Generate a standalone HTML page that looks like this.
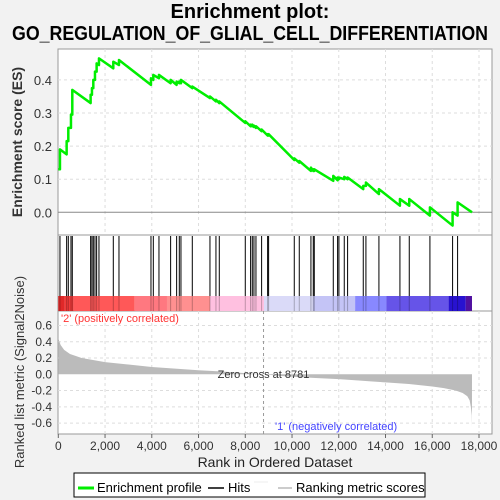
<!DOCTYPE html>
<html><head><meta charset="utf-8"><style>
body{margin:0;background:#f2f2f2;}
svg{display:block;font-family:"Liberation Sans",sans-serif;}
</style></head><body>
<svg id="c" width="500" height="500">
<text x="250" y="18" text-anchor="middle" font-size="20" font-weight="bold">Enrichment plot:</text>
<text x="250" y="40" text-anchor="middle" font-size="20" font-weight="bold" textLength="476" lengthAdjust="spacingAndGlyphs">GO_REGULATION_OF_GLIAL_CELL_DIFFERENTIATION</text>
</svg>
<script>
const hitRanks=[71,357,428,542,599,1383,1440,1498,1569,1640,1740,2353,2596,3965,4065,4307,4806,5063,5177,5248,5733,6489,6745,6888,8000,8228,8300,8371,8457,8699,8956,8998,10096,10310,10809,10909,10952,11765,11950,12007,12235,12378,13048,13162,13718,14617,15016,15900,16870,17084];
const esBefore=[0.13,0.175,0.215,0.255,0.295,0.33,0.355,0.375,0.40,0.425,0.445,0.435,0.445,0.385,0.40,0.405,0.39,0.385,0.39,0.39,0.375,0.345,0.335,0.33,0.27,0.26,0.26,0.258,0.255,0.245,0.232,0.232,0.158,0.15,0.125,0.125,0.125,0.095,0.097,0.1,0.1,0.1,0.07,0.08,0.055,0.02,0.02,-0.01,-0.04,-0.01];
const esAfter=[0.19,0.215,0.255,0.295,0.37,0.355,0.375,0.40,0.425,0.45,0.465,0.455,0.46,0.405,0.415,0.415,0.40,0.395,0.395,0.40,0.38,0.35,0.34,0.335,0.275,0.265,0.265,0.262,0.26,0.25,0.236,0.236,0.163,0.155,0.135,0.13,0.13,0.11,0.105,0.105,0.107,0.105,0.08,0.09,0.07,0.04,0.04,0.015,0.0,0.03];
const esEnd=[17700,0.0];
const metricRanks=[0,100,250,500,1000,2000,3000,4000,5000,6000,7000,8000,8781,9500,10000,11000,12000,13000,14000,15000,16000,16500,17000,17300,17500,17600,17650,17690,17700];
const metricVals=[0.44,0.36,0.30,0.25,0.20,0.15,0.12,0.09,0.07,0.05,0.035,0.015,0.0,-0.02,-0.03,-0.045,-0.06,-0.08,-0.10,-0.12,-0.15,-0.17,-0.20,-0.23,-0.27,-0.32,-0.40,-0.50,-0.65];
const barStops=[0,280,660,3270,4650,6490,8800,10900,12700,14040,16700,17430,17700];
const barColors=["#e02828","#f23a3a","#ff5858","#ff7880","#ff9090","#ffc0e0","#dadaf8","#c4c4f6","#8888ff","#6654e8","#2812d0","#5010a0"];
const esTicks=[0.0,0.1,0.2,0.3,0.4];
const mTicks=[0.6,0.4,0.2,0.0,-0.2,-0.4,-0.6];
const xTicks=[0,2000,4000,6000,8000,10000,12000,14000,16000,18000];

const NS="http://www.w3.org/2000/svg", svg=document.getElementById('c');
const L=58,R=492;
const X=r=>58.3+r*(479-58.3)/18000;
const YE=v=>212.3-v*331;
const YM=v=>374.3-v*81.3;
function mk(t,a,p){const e=document.createElementNS(NS,t);for(const k in a)e.setAttribute(k,a[k]);(p||svg).appendChild(e);return e;}
// panels
const p1=mk('rect',{x:L,y:49,width:R-L,height:186,fill:'#fff',stroke:'#999'});

const p2=mk('rect',{x:L,y:235,width:R-L,height:76,fill:'#fff',stroke:'#999'});

const p3=mk('rect',{x:L,y:311,width:R-L,height:123,fill:'#fff',stroke:'#999'});

// grids
xTicks.forEach(t=>{if(t>0){mk('line',{x1:X(t),x2:X(t),y1:49,y2:235,stroke:'#ddd','stroke-dasharray':'3,3'});mk('line',{x1:X(t),x2:X(t),y1:311,y2:434,stroke:'#ddd','stroke-dasharray':'3,3'});}});
esTicks.forEach(t=>{if(t!==0)mk('line',{x1:L,x2:R,y1:YE(t),y2:YE(t),stroke:'#ddd','stroke-dasharray':'3,3'});
 const tx=mk('text',{x:52,y:YE(t)+5,'text-anchor':'end','font-size':13,fill:'#333'});tx.textContent=t.toFixed(1);
 });
mk('line',{x1:L,x2:R,y1:YE(0),y2:YE(0),stroke:'#888'});
mTicks.forEach(t=>{if(t!==0)mk('line',{x1:L,x2:R,y1:YM(t),y2:YM(t),stroke:'#ddd','stroke-dasharray':'3,3'});
 const tx=mk('text',{x:52,y:YM(t)+4,'text-anchor':'end','font-size':12,fill:'#333'});tx.textContent=t.toFixed(1);
 });
// ES line
let pts=[[X(0),YE(esBefore[0])]];
hitRanks.forEach((r,i)=>{pts.push([X(r),YE(esBefore[i])]);pts.push([X(r),YE(esAfter[i])]);});
pts.push([X(esEnd[0]),YE(esEnd[1])]);
const es=mk('polyline',{points:pts.map(p=>p.join(',')).join(' '),fill:'none',stroke:'#00ee00','stroke-width':2.5,'stroke-linejoin':'round'});

// color bar
barColors.forEach((c,i)=>{const b=mk('rect',{x:X(barStops[i]),y:296,width:X(barStops[i+1])-X(barStops[i]),height:15,fill:c});
 });
// hits
hitRanks.forEach(r=>{const h=mk('line',{x1:X(r),x2:X(r),y1:236,y2:296,stroke:'#000','stroke-width':1});
 
 mk('line',{x1:X(r),x2:X(r),y1:296,y2:311,stroke:'#000','stroke-opacity':0.25});});
// metric area
let mp=metricRanks.map((r,i)=>X(r)+','+YM(metricVals[i]));
const area=mk('polygon',{points:X(0)+','+YM(0)+' '+mp.join(' ')+' '+X(metricRanks[metricRanks.length-1])+','+YM(0),fill:'#bbb'});

mk('line',{x1:X(8781),x2:X(8781),y1:311,y2:434,stroke:'#999','stroke-dasharray':'3,3'});
const zc=mk('text',{x:X(8781),y:378,'text-anchor':'middle','font-size':11,fill:'#333'});zc.textContent='Zero cross at 8781';

const pos=mk('text',{x:61,y:322,'font-size':11,fill:'#ff3333'});pos.textContent="'2' (positively correlated)";

const neg=mk('text',{x:275,y:430,'font-size':11,fill:'#4444ff'});neg.textContent="'1' (negatively correlated)";

xTicks.forEach(t=>{mk('line',{x1:X(t),x2:X(t),y1:434,y2:438,stroke:'#666'});
 const tx=mk('text',{x:X(t),y:450,'text-anchor':'middle','font-size':12,fill:'#333'});tx.textContent=t.toLocaleString('en-US');
 });
const xt=mk('text',{x:275,y:467,'text-anchor':'middle','font-size':14,fill:'#222'});xt.textContent='Rank in Ordered Dataset';

const yt=mk('text',{x:0,y:0,'text-anchor':'middle','font-size':14,'font-weight':'bold',fill:'#333',transform:'translate(22,142) rotate(-90)'});yt.textContent='Enrichment score (ES)';

const yt2=mk('text',{x:0,y:0,'text-anchor':'middle','font-size':13,fill:'#333',transform:'translate(24,372) rotate(-90)'});yt2.textContent='Ranked list metric (Signal2Noise)';

// legend
const lg=mk('g',{});
mk('rect',{x:74,y:473,width:351,height:24,fill:'#fff',stroke:'#000'},lg);
mk('line',{x1:78,x2:94,y1:488,y2:488,stroke:'#00ee00','stroke-width':3},lg);
let t1=mk('text',{x:97,y:492,'font-size':13},lg);t1.textContent='Enrichment profile';
mk('line',{x1:208,x2:224,y1:488,y2:488,stroke:'#000','stroke-width':1.5},lg);
let t2=mk('text',{x:228,y:492,'font-size':13},lg);t2.textContent='Hits';
mk('line',{x1:254,x2:268,y1:482,y2:482,stroke:'#eee','stroke-width':1},lg);
mk('line',{x1:278,x2:292,y1:488,y2:488,stroke:'#bbb','stroke-width':1.5},lg);
let t3=mk('text',{x:296,y:492,'font-size':13},lg);t3.textContent='Ranking metric scores';
</script>
</body></html>
